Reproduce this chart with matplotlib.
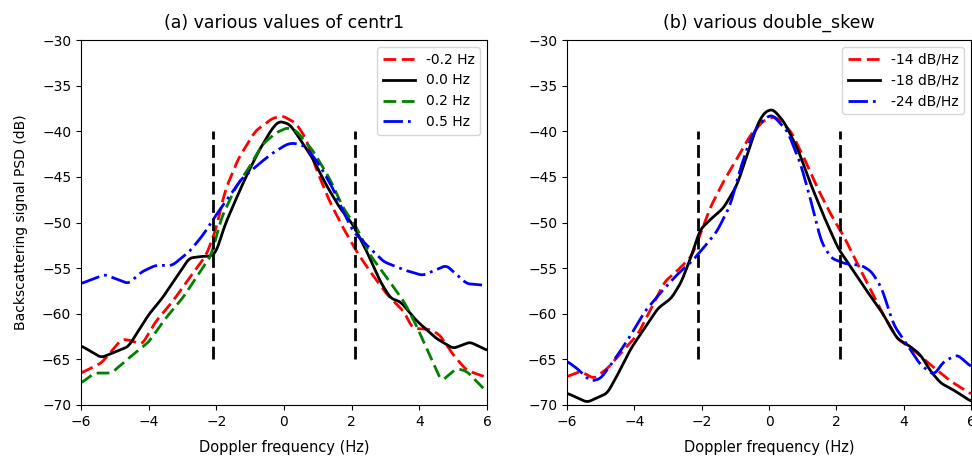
import matplotlib
matplotlib.use("Agg")
import matplotlib.pyplot as plt
import numpy as np

# ── (a) various values of centr1 ──────────────────────────────────────────────
a_m02_f = [-6.0, -5.4, -4.8, -4.55, -4.2, -3.8, -3.3, -2.8, -2.3, -2.0, -1.75, -1.35, -0.85, -0.35,
           -0.05, 0.35, 0.65, 0.95, 1.35, 1.75, 2.15, 2.55, 3.05, 3.55, 3.8, 4.3, 4.6, 5.0, 5.4, 6.0]
a_m02_p = [-66.5, -65.4, -62.8, -62.9, -63.4, -60.9, -58.7, -56.1, -53.6, -50.6, -46.6, -43.0, -40.0, -38.6,
           -38.3, -39.1, -40.8, -44.1, -47.7, -50.6, -53.2, -55.4, -57.9, -59.8, -61.6, -61.7, -62.3, -64.5, -66.2, -67.0]

a_00_f = [-6.0, -5.4, -4.6, -4.0, -3.6, -3.2, -2.8, -2.4, -2.15, -2.0, -1.75, -1.45, -1.15, -0.75, -0.35,
          -0.15, 0.15, 0.3, 0.85, 1.25, 1.65, 2.05, 2.45, 2.85, 3.15, 3.45, 3.9, 4.5, 5.0, 5.5, 6.0]
a_00_p = [-63.5, -64.8, -63.6, -60.1, -58.3, -56.1, -53.9, -53.7, -53.7, -53.2, -50.3, -47.7, -45.2, -42.2, -39.7,
          -38.9, -39.2, -39.9, -43.0, -45.9, -48.4, -50.3, -53.2, -56.5, -58.3, -58.7, -60.7, -62.7, -63.8, -63.1, -64.0]

a_02_f = [-6.0, -5.6, -5.1, -4.6, -4.0, -3.5, -3.0, -2.55, -2.15, -1.85, -1.45, -1.05, -0.65, -0.25,
          0.1, 0.35, 0.85, 1.35, 1.75, 2.15, 2.55, 3.05, 3.55, 3.9, 4.3, 4.65, 5.1, 5.4, 6.0]
a_02_p = [-67.6, -66.5, -66.5, -64.9, -63.1, -60.5, -58.3, -55.8, -53.6, -49.5, -46.3, -44.1, -41.5, -40.2,
          -39.6, -39.9, -42.1, -45.2, -48.4, -50.6, -53.6, -56.1, -58.7, -61.2, -64.5, -67.4, -66.0, -66.3, -68.6]

a_05_f = [-6.0, -5.3, -4.6, -4.2, -3.8, -3.3, -2.8, -2.4, -2.05, -1.65, -1.25, -0.65, -0.3,
          0.1, 0.3, 0.65, 1.05, 1.45, 1.75, 2.05, 2.45, 2.95, 3.55, 4.1, 4.8, 5.4, 6.0]
a_05_p = [-56.7, -55.7, -56.7, -55.4, -54.7, -54.7, -53.2, -51.4, -49.4, -47.3, -45.2, -43.3, -42.3,
          -41.4, -41.3, -41.7, -43.7, -46.3, -48.8, -51.0, -52.5, -54.3, -55.2, -55.8, -54.7, -56.7, -56.9]

# ── (b) various double_skew ───────────────────────────────────────────────────
b_14_f = [-6.0, -5.6, -5.2, -4.8, -4.4, -3.9, -3.5, -3.1, -2.7, -2.3, -2.05, -1.75, -1.35, -0.95, -0.55, -0.15,
          0.15, 0.25, 0.65, 1.05, 1.45, 1.85, 2.25, 2.65, 3.05, 3.45, 3.8, 4.3, 4.8, 5.4, 6.0]
b_14_p = [-66.9, -66.3, -67.1, -66.0, -64.3, -62.3, -59.4, -56.5, -55.2, -53.7, -51.4, -48.4, -45.5, -43.0, -40.4, -38.8,
          -38.4, -38.6, -40.0, -43.0, -46.3, -49.2, -51.7, -54.7, -57.6, -60.5, -62.7, -64.0, -65.6, -67.4, -68.8]

b_18_f = [-6.0, -5.4, -4.8, -4.5, -4.1, -3.7, -3.3, -2.9, -2.6, -2.3, -2.05, -1.75, -1.35, -0.95, -0.65, -0.35,
          -0.15, 0.05, 0.15, 0.45, 0.85, 1.25, 1.65, 2.05, 2.45, 2.85, 3.35, 3.8, 4.2, 4.5, 4.8, 5.1, 5.5, 6.0]
b_18_p = [-68.7, -69.7, -68.7, -66.7, -63.8, -61.6, -59.4, -58.3, -56.5, -53.6, -50.8, -49.7, -48.4, -45.9, -42.6, -39.3,
          -38.0, -37.6, -37.7, -39.0, -41.9, -45.9, -49.5, -52.8, -55.0, -57.2, -59.8, -62.7, -63.6, -64.5, -66.3, -67.6, -68.4, -69.6]

b_24_f = [-6.0, -5.7, -5.3, -5.0, -4.7, -4.4, -4.1, -3.7, -3.2, -2.7, -2.3, -1.95, -1.55, -1.15, -0.85, -0.55, -0.25,
          0.05, 0.15, 0.55, 0.95, 1.25, 1.55, 1.85, 2.25, 2.75, 3.05, 3.35, 3.7, 4.1, 4.5, 4.9, 5.2, 5.6, 6.0]
b_24_p = [-65.2, -66.0, -67.4, -67.1, -65.6, -64.0, -62.3, -59.8, -57.6, -55.6, -54.3, -52.8, -51.0, -48.1, -44.1, -40.8, -39.0,
          -38.2, -38.4, -40.0, -43.7, -47.7, -52.1, -53.9, -54.5, -54.7, -55.4, -57.2, -61.2, -63.4, -65.6, -66.7, -65.2, -64.5, -65.8]

f_cut = 2.1
psd_range = [-65, -40]


def smooth(f, p):
    # resample on a fine grid + short moving average so the curves look like PSDs
    x = np.linspace(f[0], f[-1], 400)
    y = np.interp(x, f, p)
    k = np.ones(7) / 7
    ys = np.convolve(np.pad(y, 3, mode="edge"), k, mode="valid")
    return x, ys


fig = plt.figure(figsize=(9.72, 4.58), dpi=100)
ax1 = fig.add_axes([81 / 972, 53 / 458, 406 / 972, 365 / 458])
ax2 = fig.add_axes([567 / 972, 53 / 458, 404 / 972, 365 / 458])

lw = 2
dash = (0, (4.6, 2.0))
dashdot = (0, (7.0, 1.8, 1.0, 1.8))

ax1.plot(*smooth(a_m02_f, a_m02_p), color="r", ls=dash, lw=lw, label="-0.2 Hz")
ax1.plot(*smooth(a_00_f, a_00_p), color="k", ls="-", lw=lw, label="0.0 Hz")
ax1.plot(*smooth(a_02_f, a_02_p), color="g", ls=dash, lw=lw, label="0.2 Hz")
ax1.plot(*smooth(a_05_f, a_05_p), color="b", ls=dashdot, lw=lw, label="0.5 Hz")
ax1.set_title("(a) various values of centr1", fontsize=12.5, pad=9)
ax1.set_ylabel("Backscattering signal PSD (dB)", fontsize=10, labelpad=10)

ax2.plot(*smooth(b_14_f, b_14_p), color="r", ls=dash, lw=lw, label="-14 dB/Hz")
ax2.plot(*smooth(b_18_f, b_18_p), color="k", ls="-", lw=lw, label="-18 dB/Hz")
ax2.plot(*smooth(b_24_f, b_24_p), color="b", ls=dashdot, lw=lw, label="-24 dB/Hz")
ax2.set_title("(b) various double_skew", fontsize=12.5, pad=9)

for ax in (ax1, ax2):
    for fc in (-f_cut, f_cut):
        ax.plot([fc, fc], psd_range, color="k", ls=dash, lw=lw)
    ax.set_xlim(-6, 6)
    ax.set_ylim(-70, -30)
    ax.set_xlabel("Doppler frequency (Hz)", fontsize=10.5, labelpad=8)
    ax.legend(loc="upper right", fontsize=10, handlelength=2.3)

fig.savefig("out.png", dpi=100)
